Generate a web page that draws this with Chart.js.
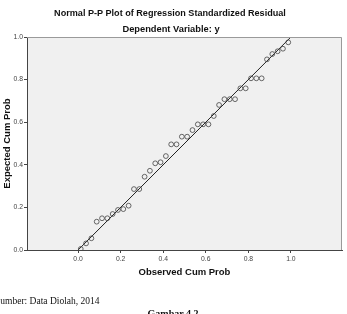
<!DOCTYPE html>
<html>
<head>
<meta charset="utf-8">
<script src="https://cdn.jsdelivr.net/npm/chart.js@4.4.0/dist/chart.umd.min.js"></script>
<style>
  html, body { margin:0; padding:0; background:#fff; width:347px; height:314px; overflow:hidden; }
  #wrap { position:absolute; left:0; top:0; width:347px; height:314px; }
  .t { position:absolute; white-space:nowrap; font-family:"Liberation Sans", Arial, sans-serif; font-weight:bold; color:#111; transform:translateX(-50%); }
  #title { left:170px; top:8px; font-size:9.1px; }
  #sub { left:171px; top:24px; font-size:9.3px; }
  #src { position:absolute; left:-5px; top:296px; font-family:"Liberation Serif", "Times New Roman", serif; font-size:9.5px; color:#111; white-space:nowrap; }
  #fig { position:absolute; left:173px; top:308px; transform:translateX(-50%); font-family:"Liberation Serif", "Times New Roman", serif; font-weight:bold; font-size:10px; color:#111; white-space:nowrap; }
</style>
</head>
<body>
<div id="wrap"><canvas id="c" width="347" height="314"></canvas></div>
<div class="t" id="title">Normal P-P Plot of Regression Standardized Residual</div>
<div class="t" id="sub">Dependent Variable: y</div>
<div id="src">Sumber: Data Diolah, 2014</div>
<div id="fig">Gambar 4.2</div>
<script>
// Observed cumulative probabilities (x) and expected cumulative probabilities (y)
const observedCumProb = [0.0125,0.0375,0.0625,0.0875,0.1125,0.1375,0.1625,0.1875,0.2125,0.2375,
  0.2625,0.2875,0.3125,0.3375,0.3625,0.3875,0.4125,0.4375,0.4625,0.4875,
  0.5125,0.5375,0.5625,0.5875,0.6125,0.6375,0.6625,0.6875,0.7125,0.7375,
  0.7625,0.7875,0.8125,0.8375,0.8625,0.8875,0.9125,0.9375,0.9625,0.9875];
const expectedCumProb = [0.005,0.031,0.055,0.133,0.149,0.149,0.169,0.188,0.192,0.208,
  0.286,0.286,0.344,0.372,0.407,0.412,0.441,0.496,0.496,0.532,
  0.532,0.563,0.590,0.590,0.590,0.629,0.681,0.708,0.708,0.708,
  0.759,0.759,0.806,0.806,0.806,0.895,0.920,0.933,0.945,0.975];
const refLineX = [0, 1];
const refLineY = [0, 1];
const tickValues = [0, 0.2, 0.4, 0.6, 0.8, 1.0];

const points = observedCumProb.map((x, i) => ({x, y: expectedCumProb[i]}));
const line = refLineX.map((x, i) => ({x, y: refLineY[i]}));

const bgPlugin = {
  id: 'bg',
  beforeDraw(chart) {
    const {ctx, chartArea: a} = chart;
    ctx.save();
    ctx.fillStyle = '#f0f0f0';
    ctx.fillRect(a.left, a.top, a.right - a.left, a.bottom - a.top);
    ctx.restore();
  },
  afterDraw(chart) {
    const {ctx, chartArea: a} = chart;
    ctx.save();
    ctx.strokeStyle = '#9a9a9a';
    ctx.lineWidth = 1;
    ctx.beginPath();
    ctx.moveTo(a.left, a.top + 0.5);
    ctx.lineTo(a.right - 0.5, a.top + 0.5);
    ctx.lineTo(a.right - 0.5, a.bottom);
    ctx.stroke();
    ctx.restore();
  }
};

const tickFont = {family: '"Liberation Sans", Arial, sans-serif', size: 6.8};
const titleFont = {family: '"Liberation Sans", Arial, sans-serif', size: 9.5, weight: 'bold'};

new Chart(document.getElementById('c'), {
  type: 'scatter',
  data: {
    datasets: [
      {
        data: line, showLine: true, borderColor: '#222', borderWidth: 1,
        pointRadius: 0, fill: false, order: 1
      },
      {
        data: points, pointStyle: 'circle', pointRadius: 2.4,
        pointBorderColor: '#444', pointBackgroundColor: 'rgba(0,0,0,0)',
        pointBorderWidth: 0.8, showLine: false, order: 0
      }
    ]
  },
  options: {
    responsive: false,
    animation: false,
    events: [],
    layout: {padding: {left: 0, right: 5, top: 37, bottom: 0}},
    plugins: {legend: {display: false}, tooltip: {enabled: false}},
    scales: {
      x: {
        type: 'linear', min: -0.24, max: 1.24,
        afterBuildTicks(s) { s.ticks = tickValues.map(v => ({value: v})); },
        afterFit(s) { s.height = 64; },
        ticks: {font: tickFont, color: '#444', padding: 2, maxRotation: 0,
          callback: v => Number(v).toFixed(1)},
        grid: {display: true, drawOnChartArea: false, drawTicks: true, tickLength: 3, color: '#444'},
        border: {display: true, color: '#444', width: 1},
        title: {display: true, text: 'Observed Cum Prob', font: titleFont, color: '#111',
          padding: {top: 0, bottom: 36}}
      },
      y: {
        type: 'linear', min: 0, max: 1,
        afterBuildTicks(s) { s.ticks = tickValues.map(v => ({value: v})); },
        afterFit(s) { s.width = 27; },
        ticks: {font: tickFont, color: '#444', padding: 1,
          callback: v => Number(v).toFixed(1)},
        grid: {display: true, drawOnChartArea: false, drawTicks: true, tickLength: 3, color: '#444'},
        border: {display: true, color: '#444', width: 1},
        title: {display: true, text: 'Expected Cum Prob', font: titleFont, color: '#111',
          padding: {top: 2, bottom: 0}}
      }
    }
  },
  plugins: [bgPlugin]
});
</script>
</body>
</html>
